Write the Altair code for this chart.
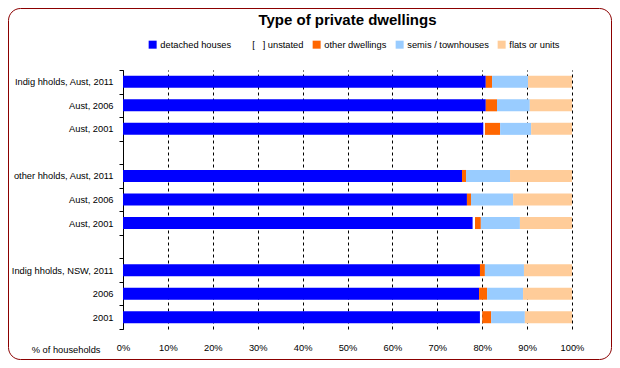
import altair as alt
import pandas as pd

rows = ["Indig hholds, Aust, 2011", "Aust, 2006", "Aust, 2001", "",
        "other hholds, Aust, 2011", "Aust, 2006", "Aust, 2001", "",
        "Indig hholds, NSW, 2011", "2006", "2001"]
detached = [80.8, 80.8, 80.3, None, 75.5, 76.6, 77.9, None, 79.5, 79.3, 79.5]
unstated = [0.0, 0.0, 0.3, None, 0.0, 0.0, 0.5, None, 0.0, 0.0, 0.5]
other = [1.4, 2.5, 3.4, None, 0.9, 0.9, 1.3, None, 1.1, 1.8, 2.0]
semis = [8.0, 7.3, 6.9, None, 9.8, 9.4, 8.7, None, 8.7, 8.0, 7.5]
flats = [9.8, 9.4, 9.1, None, 13.8, 13.1, 11.6, None, 10.7, 10.9, 10.5]
series = ["detached houses", "[\u00a0\u00a0\u00a0] unstated", "other dwellings",
          "semis / townhouses", "flats or units"]
colors = ["#0000FF", "#FFFFFF", "#FF6600", "#99CCFF", "#FFCC99"]
x_ticks = [0, 10, 20, 30, 40, 50, 60, 70, 80, 90, 100]

keys = [f"{i:02d}|{r}" for i, r in enumerate(rows)]
records = []
for i, k in enumerate(keys):
    for j, (name, vals) in enumerate(zip(series, [detached, unstated, other, semis, flats])):
        v = vals[i]
        if v is None:
            continue
        records.append({"key": k, "series": name, "value": v, "ord": j})
df = pd.DataFrame(records)

FONT = "Liberation Sans"

bars = alt.Chart(df).mark_bar(height=12).encode(
    x=alt.X("value:Q", stack="zero",
            scale=alt.Scale(domain=[0, 100], nice=False),
            axis=alt.Axis(values=x_ticks, labelExpr="datum.value + '%'",
                          grid=True, gridDash=[3, 3], gridColor="black", gridWidth=1,
                          domain=False, ticks=False, labelPadding=14, labelFlush=False,
                          labelFontSize=9.3, labelColor="black",
                          title="% of households", titleX=-23, titleY=20,
                          titleAlign="right", titleBaseline="middle",
                          titleFontWeight="normal", titleFontSize=9.3,
                          titleColor="black")),
    y=alt.Y("key:N", sort=keys,
            scale=alt.Scale(domain=keys, paddingInner=0, paddingOuter=0),
            axis=alt.Axis(labelExpr="split(datum.value, '|')[1]", tickBand="extent",
                          title=None, domainColor="black", tickColor="black",
                          tickSize=4, labelPadding=6, grid=False,
                          labelFontSize=9.3, labelColor="black")),
    color=alt.Color("series:N",
                    scale=alt.Scale(domain=series, range=colors),
                    legend=alt.Legend(orient="none", legendX=25, legendY=-30,
                                      direction="horizontal", columns=5, title=None,
                                      symbolType="square", symbolSize=64,
                                      symbolStrokeWidth=0, labelFontSize=9.3,
                                      labelColor="black", columnPadding=8,
                                      labelOffset=3)),
    order=alt.Order("ord:Q"),
)

border = alt.Chart(alt.Data(values=[{"a": 1}])).mark_rect(
    fillOpacity=0, stroke="#8B0000", strokeWidth=1, cornerRadius=12
).encode(
    x=alt.value(-114.5), x2=alt.value(488.5),
    y=alt.value(-61.5), y2=alt.value(289.5),
)

chart = alt.layer(border, bars).properties(
    width=449, height=259,
    autosize=alt.AutoSizeParams(type="none"),
    padding={"left": 115, "top": 62, "right": 40, "bottom": 31},
    title=alt.TitleParams("Type of private dwellings", fontSize=15, fontWeight="bold",
                          font=FONT, anchor="middle", color="black", offset=0, dy=20),
).configure(font=FONT, background="white").configure_view(strokeWidth=0)

chart.save("out.html", embed_options={"renderer": "svg", "actions": False})
